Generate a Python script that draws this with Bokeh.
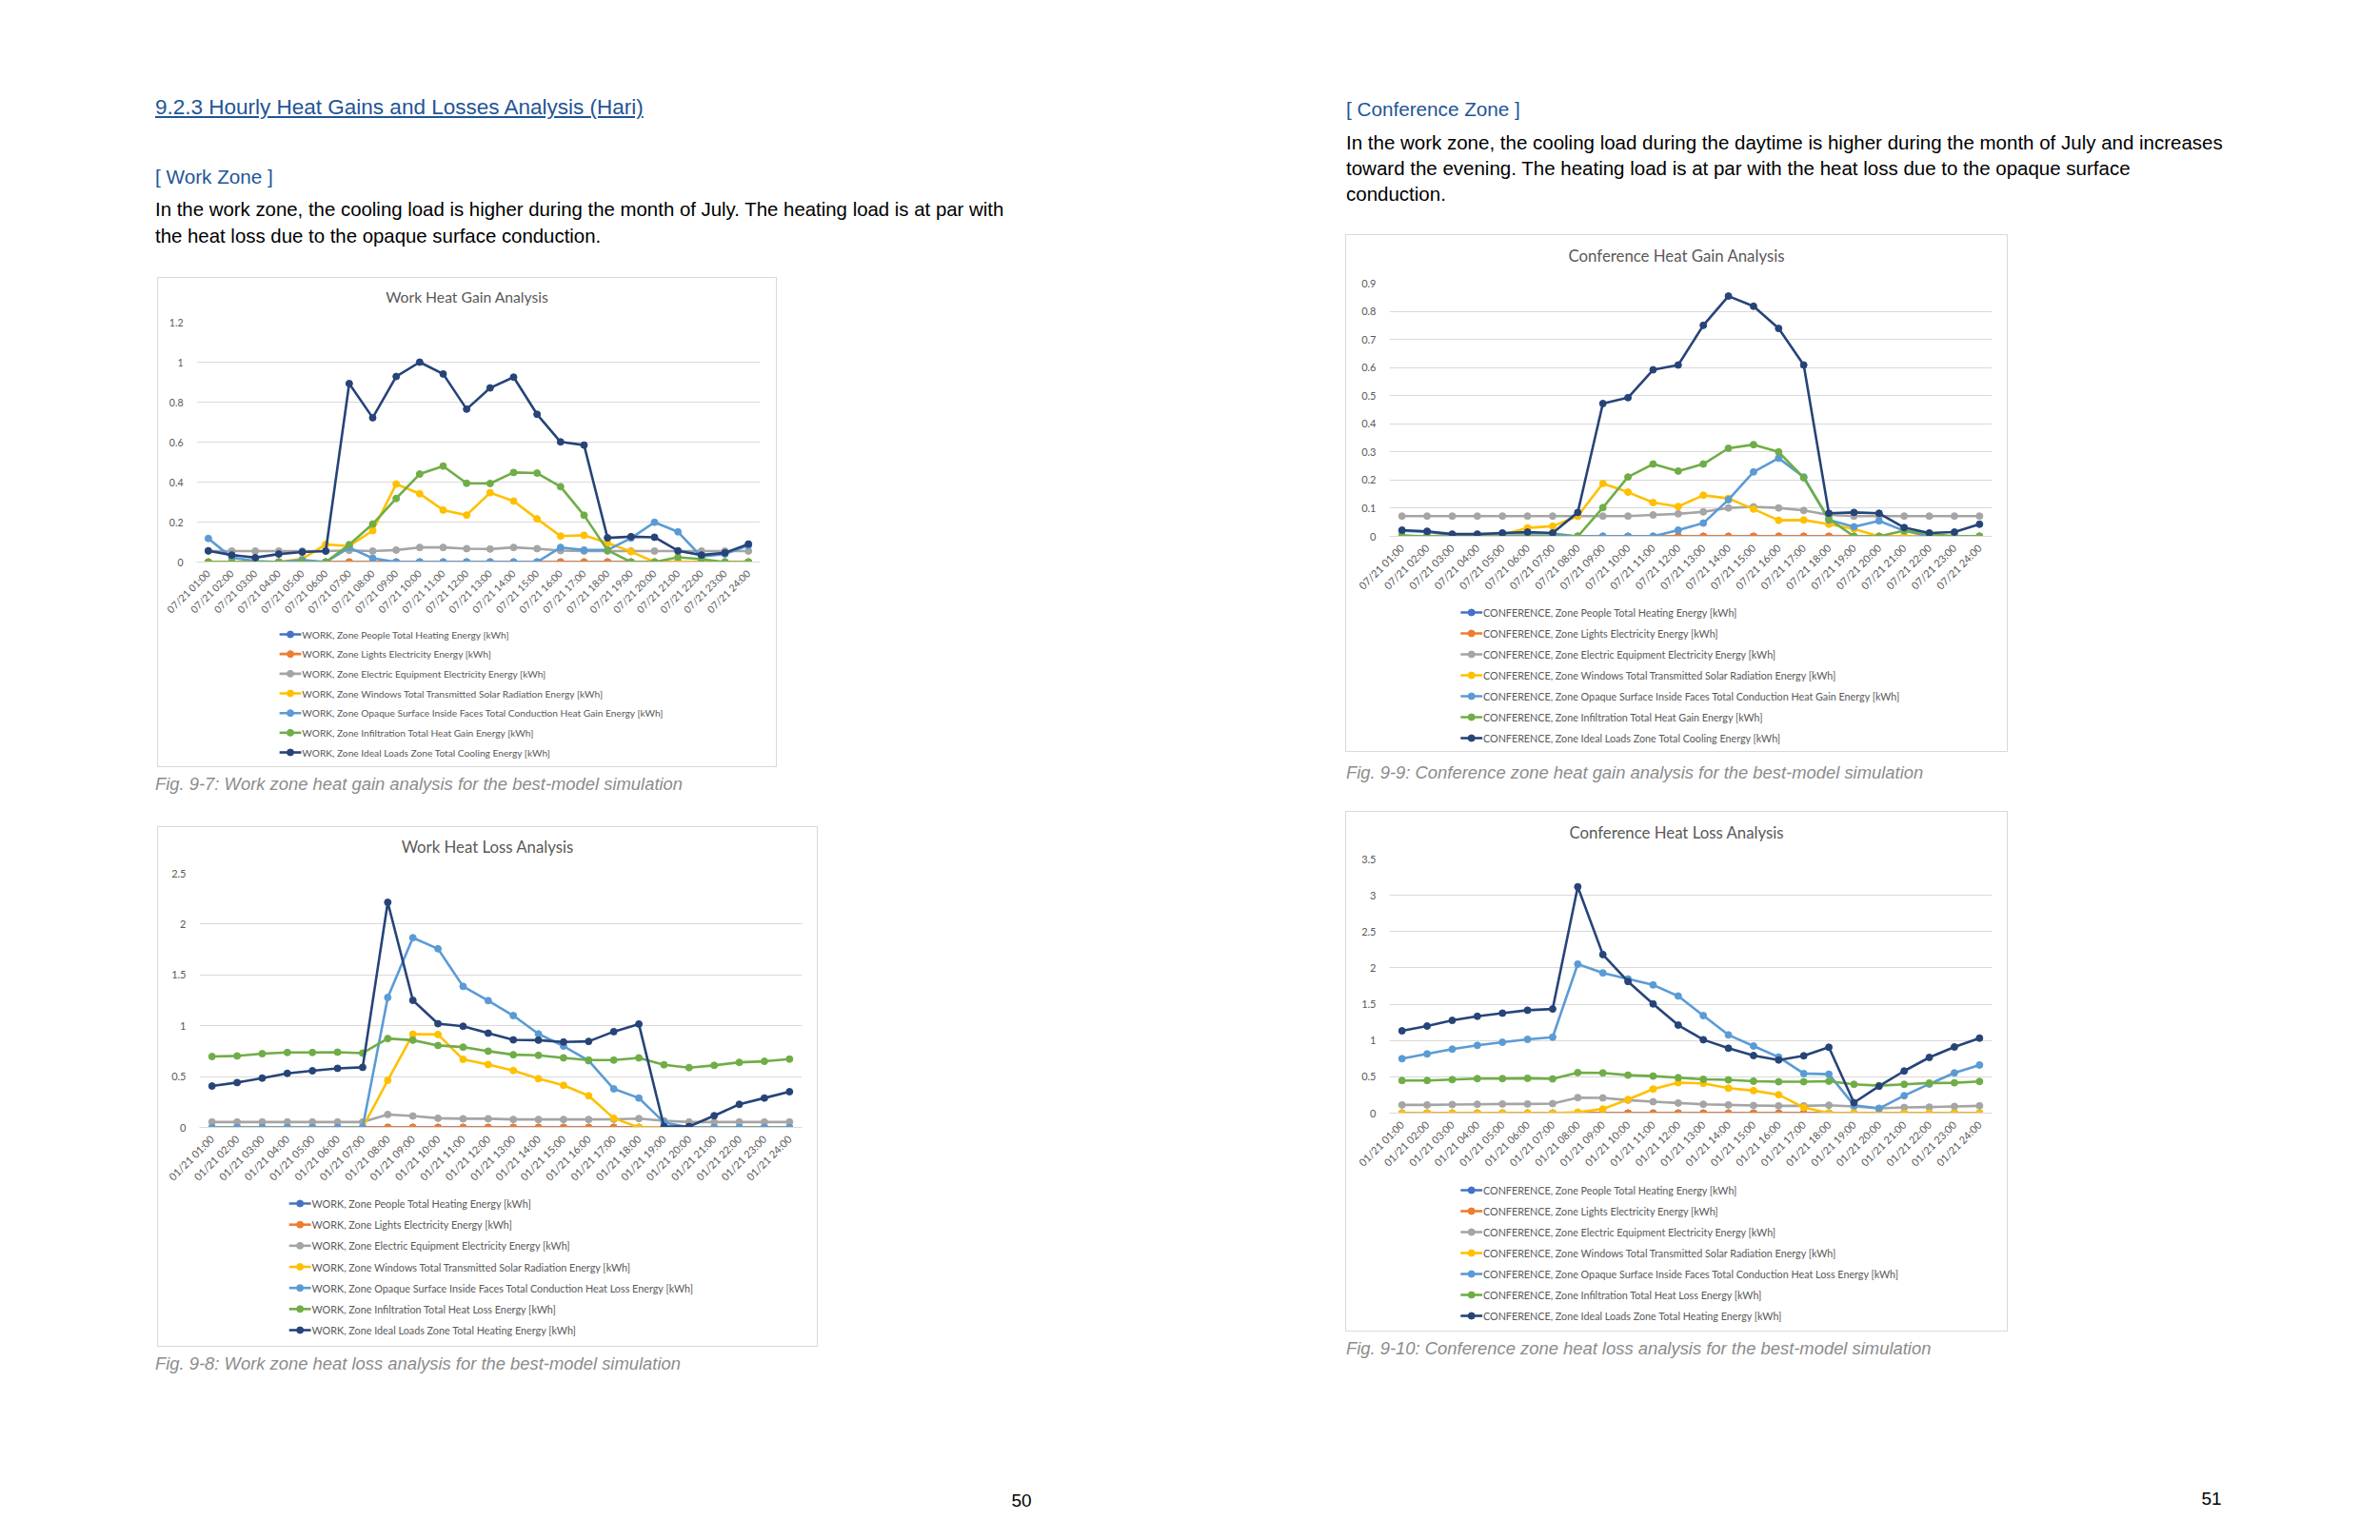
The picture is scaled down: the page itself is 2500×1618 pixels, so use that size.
from bokeh.plotting import figure
from bokeh.models import Range1d, FactorRange, FixedTicker, CustomJSTickFormatter, Div, Spacer
from bokeh.layouts import row, column
from bokeh.core.properties import value
from bokeh.embed import file_html
from bokeh.resources import INLINE
import math

# ---------------- data ----------------
HOURS = ["01:00", "02:00", "03:00", "04:00", "05:00", "06:00", "07:00", "08:00",
         "09:00", "10:00", "11:00", "12:00", "13:00", "14:00", "15:00", "16:00",
         "17:00", "18:00", "19:00", "20:00", "21:00", "22:00", "23:00", "24:00"]
JULY = ["07/21 " + h for h in HOURS]
JAN = ["01/21 " + h for h in HOURS]

SERIES_NAMES = ["Zone People Total Heating Energy [kWh]",
                "Zone Lights Electricity Energy [kWh]",
                "Zone Electric Equipment Electricity Energy [kWh]",
                "Zone Windows Total Transmitted Solar Radiation Energy [kWh]",
                "Zone Opaque Surface Inside Faces Total Conduction Heat {} Energy [kWh]",
                "Zone Infiltration Total Heat {} Energy [kWh]",
                "Zone Ideal Loads Zone Total {} Energy [kWh]"]
COLORS = ["#4472C4", "#ED7D31", "#A5A5A5", "#FFC000", "#5B9BD5", "#70AD47", "#264478"]

# Work zone - heat gain (July)
WG_PEOPLE = [0, 0, 0, 0, 0, 0, 0, 0, 0, 0, 0, 0, 0, 0, 0, 0, 0, 0, 0, 0, 0, 0, 0, 0]
WG_LIGHTS = [0, 0, 0, 0, 0, 0, 0, 0, 0, 0, 0, 0, 0, 0, 0, 0, 0, 0, 0, 0, 0, 0, 0, 0]
WG_EQUIP = [0.055, 0.055, 0.055, 0.055, 0.055, 0.055, 0.058, 0.055, 0.06, 0.073, 0.073, 0.067,
            0.065, 0.073, 0.067, 0.057, 0.055, 0.055, 0.055, 0.055, 0.055, 0.055, 0.055, 0.055]
WG_WINDOWS = [0, 0, 0, 0, 0.016, 0.088, 0.08, 0.157, 0.39, 0.342, 0.26, 0.235,
              0.347, 0.305, 0.216, 0.13, 0.134, 0.095, 0.052, 0, 0, 0, 0, 0]
WG_OPAQUE = [0.118, 0.022, 0.005, 0, 0.01, 0, 0.072, 0.019, 0, 0, 0, 0,
             0, 0, 0, 0.073, 0.06, 0.06, 0.12, 0.199, 0.151, 0.027, 0.04, 0.083]
WG_INFIL = [0, 0, 0, 0, 0, 0, 0.087, 0.19, 0.318, 0.44, 0.48, 0.394,
            0.393, 0.448, 0.445, 0.377, 0.234, 0.059, 0, 0, 0.024, 0.014, 0, 0]
WG_IDEAL = [0.056, 0.035, 0.022, 0.04, 0.05, 0.055, 0.893, 0.722, 0.928, 1.0, 0.941, 0.765,
            0.871, 0.925, 0.739, 0.601, 0.585, 0.121, 0.127, 0.124, 0.056, 0.035, 0.046, 0.09]

# Work zone - heat loss (January)
WL_PEOPLE = [0, 0, 0, 0, 0, 0, 0, 0, 0, 0, 0, 0, 0, 0, 0, 0, 0, 0, 0, 0, 0, 0, 0, 0]
WL_LIGHTS = [0, 0, 0, 0, 0, 0, 0, 0, 0, 0, 0, 0, 0, 0, 0, 0, 0, 0, 0, 0, 0, 0, 0, 0]
WL_EQUIP = [0.053, 0.053, 0.053, 0.053, 0.053, 0.053, 0.053, 0.127, 0.112, 0.09, 0.085, 0.085,
            0.078, 0.078, 0.078, 0.078, 0.08, 0.087, 0.065, 0.053, 0.053, 0.053, 0.053, 0.053]
WL_WINDOWS = [0, 0, 0, 0, 0, 0, 0, 0.463, 0.917, 0.914, 0.669, 0.619,
              0.56, 0.479, 0.414, 0.311, 0.09, 0, 0, 0, 0, 0, 0, 0]
WL_OPAQUE = [0, 0, 0, 0, 0, 0, 0, 1.278, 1.866, 1.757, 1.387, 1.247,
             1.1, 0.92, 0.8, 0.656, 0.379, 0.289, 0.05, 0, 0, 0, 0, 0]
WL_INFIL = [0.697, 0.703, 0.725, 0.737, 0.737, 0.74, 0.731, 0.874, 0.858, 0.806, 0.79, 0.75,
            0.715, 0.709, 0.684, 0.662, 0.662, 0.684, 0.616, 0.588, 0.61, 0.64, 0.65, 0.672]
WL_IDEAL = [0.407, 0.441, 0.485, 0.532, 0.557, 0.581, 0.591, 2.214, 1.25, 1.02, 0.995, 0.927,
            0.861, 0.858, 0.84, 0.846, 0.942, 1.017, 0.009, 0.009, 0.115, 0.227, 0.289, 0.351]

# Conference zone - heat gain (July)
CG_PEOPLE = [0, 0, 0, 0, 0, 0, 0, 0, 0, 0, 0, 0, 0, 0, 0, 0, 0, 0, 0, 0, 0, 0, 0, 0]
CG_LIGHTS = [0, 0, 0, 0, 0, 0, 0, 0, 0, 0, 0, 0, 0, 0, 0, 0, 0, 0, 0, 0, 0, 0, 0, 0]
CG_EQUIP = [0.072, 0.072, 0.072, 0.072, 0.072, 0.072, 0.072, 0.072, 0.072, 0.072, 0.076, 0.08,
            0.087, 0.101, 0.105, 0.101, 0.092, 0.076, 0.072, 0.072, 0.072, 0.072, 0.072, 0.072]
CG_WINDOWS = [0, 0, 0, 0, 0.006, 0.03, 0.036, 0.072, 0.188, 0.157, 0.12, 0.106,
              0.146, 0.135, 0.097, 0.057, 0.058, 0.043, 0.026, 0, 0, 0, 0, 0]
CG_OPAQUE = [0.02, 0.015, 0.005, 0.005, 0.01, 0.01, 0.01, 0, 0, 0, 0, 0.022,
             0.047, 0.13, 0.229, 0.278, 0.211, 0.058, 0.034, 0.055, 0.02, 0, 0, 0]
CG_INFIL = [0.003, 0, 0, 0, 0, 0, 0, 0, 0.102, 0.211, 0.257, 0.232,
            0.257, 0.313, 0.326, 0.3, 0.208, 0.062, 0, 0, 0.02, 0.009, 0, 0]
CG_IDEAL = [0.022, 0.018, 0.008, 0.008, 0.012, 0.015, 0.012, 0.085, 0.472, 0.493, 0.592, 0.609,
            0.75, 0.854, 0.818, 0.739, 0.609, 0.082, 0.085, 0.082, 0.031, 0.012, 0.015, 0.043]

# Conference zone - heat loss (January)
CL_PEOPLE = [0, 0, 0, 0, 0, 0, 0, 0, 0, 0, 0, 0, 0, 0, 0, 0, 0, 0, 0, 0, 0, 0, 0, 0]
CL_LIGHTS = [0, 0, 0, 0, 0, 0, 0, 0, 0, 0, 0, 0, 0, 0, 0, 0, 0, 0, 0, 0, 0, 0, 0, 0]
CL_EQUIP = [0.113, 0.113, 0.118, 0.122, 0.126, 0.126, 0.131, 0.214, 0.209, 0.179, 0.157, 0.139,
            0.122, 0.113, 0.105, 0.1, 0.1, 0.109, 0.092, 0.065, 0.078, 0.083, 0.092, 0.1]
CL_WINDOWS = [0, 0, 0, 0, 0, 0, 0, 0.013, 0.057, 0.187, 0.331, 0.418,
              0.41, 0.344, 0.31, 0.253, 0.078, 0, 0, 0, 0, 0, 0, 0]
CL_OPAQUE = [0.75, 0.815, 0.881, 0.933, 0.976, 1.016, 1.046, 2.053, 1.931, 1.848, 1.765, 1.613,
             1.343, 1.077, 0.924, 0.772, 0.545, 0.536, 0.109, 0.065, 0.24, 0.401, 0.554, 0.663]
CL_INFIL = [0.449, 0.449, 0.462, 0.475, 0.475, 0.48, 0.471, 0.558, 0.554, 0.523, 0.51, 0.488,
            0.466, 0.458, 0.44, 0.432, 0.432, 0.44, 0.397, 0.379, 0.397, 0.414, 0.418, 0.436]
CL_IDEAL = [1.133, 1.199, 1.277, 1.334, 1.377, 1.417, 1.434, 3.117, 2.184, 1.813, 1.504, 1.212,
            1.011, 0.894, 0.793, 0.732, 0.789, 0.907, 0.144, 0.371, 0.58, 0.767, 0.911, 1.033]

Y_TICKS_WG = [0, 0.2, 0.4, 0.6, 0.8, 1.0, 1.2]
Y_TICKS_WL = [0, 0.5, 1.0, 1.5, 2.0, 2.5]
Y_TICKS_CG = [0, 0.1, 0.2, 0.3, 0.4, 0.5, 0.6, 0.7, 0.8, 0.9]
Y_TICKS_CL = [0, 0.5, 1.0, 1.5, 2.0, 2.5, 3.0, 3.5]

# ---------------- styling ----------------
CHART_FONT = "Lato"
TEXT_FONT = "'Liberation Sans', Arial, sans-serif"
GRID = "#D9D9D9"
LABEL_C = "#595959"


def labels_for(zone, word_opaque, word_infil, word_ideal):
    out = []
    for i, n in enumerate(SERIES_NAMES):
        if i == 4:
            n = n.format(word_opaque)
        elif i == 5:
            n = n.format(word_infil)
        elif i == 6:
            n = n.format(word_ideal)
        out.append(zone + ", " + n)
    return out


def make_chart(title, cats, series, labels, yticks, W, H_main, H_leg, T, bl, br, bt, bb,
               fs_title, fs_tick, fs_leg, leg_x, leg_y0, leg_pitch, title_center):
    # chart title, as a strip across the top of the chart box
    tdiv = Div(width=W, height=T, margin=0, text=(
        f'<div style="position:relative;width:{W}px;height:{T}px;">'
        f'<div style="position:absolute;left:0;top:{title_center - 10}px;width:{W}px;'
        f'text-align:center;font-family:{CHART_FONT};font-size:{fs_title};line-height:20px;'
        f'color:{LABEL_C};white-space:nowrap;">{title}</div></div>'))

    p = figure(width=W, height=H_main - T, x_range=FactorRange(*cats, range_padding=0),
               y_range=Range1d(0, yticks[-1]), output_backend="svg", toolbar_location=None,
               title_location=None,
               min_border_left=bl, min_border_right=br, min_border_top=bt - T,
               min_border_bottom=bb,
               background_fill_color="white", border_fill_color="white", margin=0)
    p.outline_line_color = None

    p.xgrid.visible = False
    p.ygrid.grid_line_color = GRID
    p.ygrid.grid_line_width = 1

    p.yaxis.ticker = FixedTicker(ticks=yticks)
    p.yaxis.formatter = CustomJSTickFormatter(code="return String(parseFloat(tick.toFixed(2)))")
    p.yaxis.axis_line_color = None
    p.yaxis.major_tick_line_color = None
    p.yaxis.minor_tick_line_color = None
    p.yaxis.major_label_standoff = 8
    p.yaxis.major_label_text_font = CHART_FONT
    p.yaxis.major_label_text_font_size = fs_tick
    p.yaxis.major_label_text_color = LABEL_C

    p.xaxis.axis_line_color = GRID
    p.xaxis.major_tick_line_color = None
    p.xaxis.minor_tick_line_color = None
    p.xaxis.major_label_orientation = math.pi / 4
    p.xaxis.major_label_standoff = 4
    p.xaxis.major_label_text_font = CHART_FONT
    p.xaxis.major_label_text_font_size = fs_tick
    p.xaxis.major_label_text_color = LABEL_C

    for vals, col in zip(series, COLORS):
        p.line(x=cats, y=vals, line_color=col, line_width=2.6, line_join="round")
        p.scatter(x=cats, y=vals, size=7, fill_color=col, line_color=col)

    # legend panel (a small figure whose units are pixels, y pointing down)
    lg = figure(width=W, height=H_leg, x_range=Range1d(0, W), y_range=Range1d(H_leg, 0),
                output_backend="svg", toolbar_location=None, x_axis_type=None, y_axis_type=None,
                title_location=None,
                min_border=0, min_border_left=0, min_border_right=0, min_border_top=0,
                min_border_bottom=0, background_fill_color="white", border_fill_color="white",
                margin=0)
    lg.outline_line_color = None
    lg.xgrid.visible = False
    lg.ygrid.visible = False
    ys = [leg_y0 + i * leg_pitch for i in range(len(labels))]
    x0 = [leg_x] * len(labels)
    x1 = [leg_x + 25] * len(labels)
    xm = [leg_x + 12.5] * len(labels)
    xt = [leg_x + 26] * len(labels)
    lg.segment(x0=x0, y0=ys, x1=x1, y1=ys, line_color=COLORS, line_width=2.6)
    lg.scatter(x=xm, y=ys, size=7, fill_color=COLORS, line_color=COLORS)
    lg.text(x=xt, y=ys, text=labels, text_font=value(CHART_FONT),
            text_font_size=value(fs_leg), text_color=LABEL_C,
            text_baseline="middle", text_align="left")

    return column(tdiv, p, lg, spacing=0, margin=0,
                  styles={"outline": "1px solid #D9D9D9", "background": "white"})


chart1 = make_chart("Work Heat Gain Analysis", JULY,
                    [WG_PEOPLE, WG_LIGHTS, WG_EQUIP, WG_WINDOWS, WG_OPAQUE, WG_INFIL, WG_IDEAL],
                    labels_for("WORK", "Gain", "Gain", "Cooling"), Y_TICKS_WG,
                    649, 363, 150, 36, 40, 17, 46, 65, "15.7px", "10.5px", "10.2px",
                    95.5, 11, 20.67, 20)
chart2 = make_chart("Work Heat Loss Analysis", JAN,
                    [WL_PEOPLE, WL_LIGHTS, WL_EQUIP, WL_WINDOWS, WL_OPAQUE, WL_INFIL, WL_IDEAL],
                    labels_for("WORK", "Loss", "Loss", "Heating"), Y_TICKS_WL,
                    692, 381, 164, 38, 43, 16, 48, 65, "16.8px", "11px", "10.8px",
                    103, 14, 22.17, 21)
chart3 = make_chart("Conference Heat Gain Analysis", JULY,
                    [CG_PEOPLE, CG_LIGHTS, CG_EQUIP, CG_WINDOWS, CG_OPAQUE, CG_INFIL, CG_IDEAL],
                    labels_for("CONFERENCE", "Gain", "Gain", "Cooling"), Y_TICKS_CG,
                    694, 383, 159, 40, 45, 16, 50, 67, "16.8px", "11px", "10.75px",
                    82, 13, 22, 22)
chart4 = make_chart("Conference Heat Loss Analysis", JAN,
                    [CL_PEOPLE, CL_LIGHTS, CL_EQUIP, CL_WINDOWS, CL_OPAQUE, CL_INFIL, CL_IDEAL],
                    labels_for("CONFERENCE", "Loss", "Loss", "Heating"), Y_TICKS_CL,
                    694, 383, 162, 39, 45, 16, 49, 67, "16.8px", "11px", "10.75px",
                    82, 14, 22, 22)

# ---------------- page texts ----------------
BLUE = "#1F5597"
CAP_C = "#8C8C8C"


def abs_text(left, top, txt, size, color, lh=None, extra=""):
    lh = lh or size
    return (f'<div style="position:absolute;left:{left}px;top:{top}px;font-size:{size}px;'
            f'line-height:{lh}px;color:{color};white-space:nowrap;{extra}">{txt}</div>')


def block(w, h, inner):
    return (f'<div style="position:relative;width:{w}px;height:{h}px;font-family:{TEXT_FONT};">'
            + inner + '</div>')


left_top = Div(width=1406, height=284, margin=0, text=block(1406, 284,
    abs_text(155, 94, "9.2.3 Hourly Heat Gains and Losses Analysis (Hari)", 22.5, BLUE,
             extra="text-decoration:underline;")
    + abs_text(155, 168, "[ Work Zone ]", 20.7, BLUE)
    + abs_text(155, 198, "In the work zone, the cooling load is higher during the month of July. "
                          "The heating load is at par with<br>the heat loss due to the opaque "
                          "surface conduction.", 20.4, "#000000", lh=28)))

cap1 = Div(width=1406, height=64, margin=0, text=block(1406, 64,
    abs_text(155, 10, "Fig. 9-7: Work zone heat gain analysis for the best-model simulation",
             18.4, CAP_C, extra="font-style:italic;")))

left_bottom = Div(width=1406, height=196, margin=0, text=block(1406, 196,
    abs_text(155, 10, "Fig. 9-8: Work zone heat loss analysis for the best-model simulation",
             18.4, CAP_C, extra="font-style:italic;")
    + abs_text(1045, 153, "50", 19, "#000000", extra="width:40px;text-align:center;")))

right_top = Div(width=1078, height=239, margin=0, text=block(1078, 239,
    abs_text(0, 97, "[ Conference Zone ]", 20.7, BLUE)
    + abs_text(0, 128, "In the work zone, the cooling load during the daytime is higher during the "
                        "month of July and increases<br>toward the evening. The heating load is at "
                        "par with the heat loss due to the opaque surface<br>conduction.",
               20.5, "#000000", lh=27)))

cap3 = Div(width=1078, height=64, margin=0, text=block(1078, 64,
    abs_text(0, 14, "Fig. 9-9: Conference zone heat gain analysis for the best-model simulation",
             18.4, CAP_C, extra="font-style:italic;")))

right_bottom = Div(width=1078, height=212, margin=0, text=block(1078, 212,
    abs_text(0, 10, "Fig. 9-10: Conference zone heat loss analysis for the best-model simulation",
             18.4, CAP_C, extra="font-style:italic;")
    + abs_text(889, 167, "51", 19, "#000000", extra="width:40px;text-align:center;")))

left = column(left_top,
              row(Spacer(width=158, height=513, margin=0), chart1, spacing=0),
              cap1,
              row(Spacer(width=158, height=545, margin=0), chart2, spacing=0),
              left_bottom, spacing=0)
right = column(right_top, chart3, cap3, chart4, right_bottom, spacing=0)
page = column(Spacer(width=2492, height=8, margin=0),
              row(Spacer(width=8, height=1602, margin=0), left, right, spacing=0),
              spacing=0)

open("out.html", "w").write(file_html(page, INLINE))
